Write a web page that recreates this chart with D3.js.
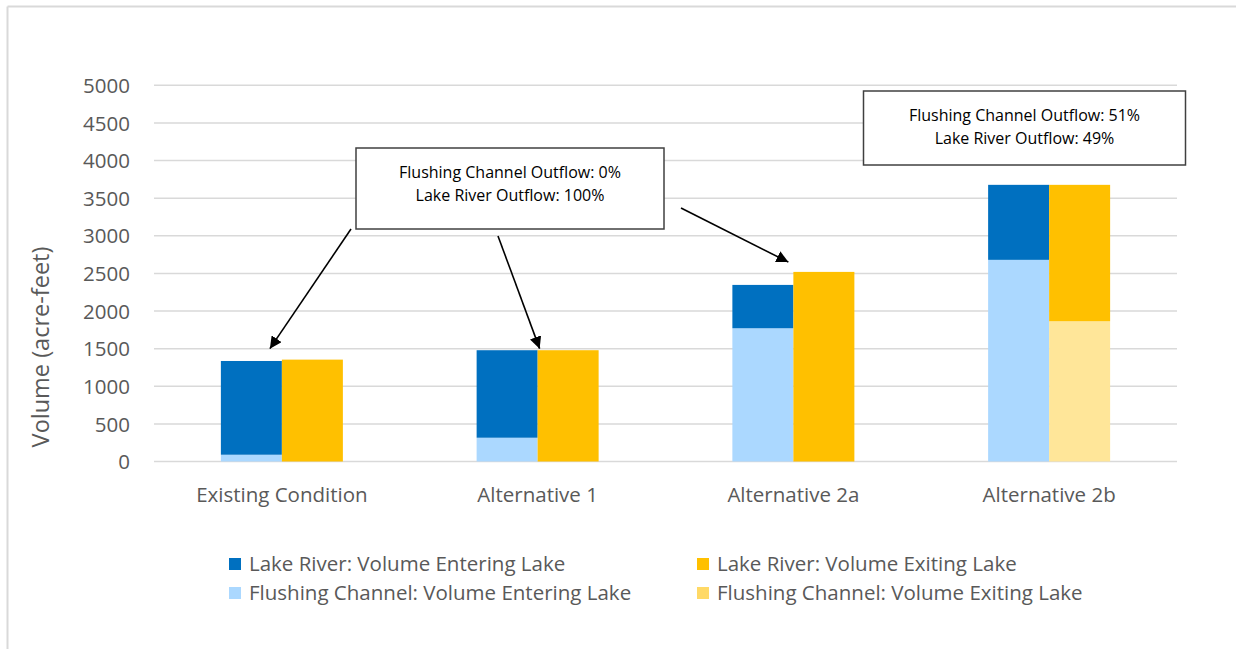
<!DOCTYPE html>
<html>
<head>
<meta charset="utf-8">
<script src="https://cdn.jsdelivr.net/npm/d3@7"></script>
<style>
  html, body { margin: 0; padding: 0; background: #fff; }
  svg { display: block; }
</style>
</head>
<body>
<svg id="chart" width="1236" height="649"></svg>
<script>
// ---- data ----
const categories = ["Existing Condition", "Alternative 1", "Alternative 2a", "Alternative 2b"];
const flushingEntering = [90, 316, 1771, 2680];
const lakeRiverEntering = [1246, 1163, 576, 997];
const flushingExiting = [0, 0, 0, 1864];
const lakeRiverExiting = [1354, 1479, 2520, 1813];
const yTicks = [0, 500, 1000, 1500, 2000, 2500, 3000, 3500, 4000, 4500, 5000];
const seriesNames = [
  "Lake River: Volume Entering Lake",
  "Lake River: Volume Exiting Lake",
  "Flushing Channel: Volume Entering Lake",
  "Flushing Channel: Volume Exiting Lake"
];
const annotation1 = ["Flushing Channel Outflow: 0%", "Lake River Outflow: 100%"];
const annotation2 = ["Flushing Channel Outflow: 51%", "Lake River Outflow: 49%"];

const colors = {
  lrIn: "#0070C0",
  lrOut: "#FFC000",
  fcIn: "#ABD8FF",
  fcOut: "#FFE699"
};

const svg = d3.select("#chart");
const textColor = "#595959";
const font = "'Open Sans', 'DejaVu Sans', sans-serif";

// outer frame
svg.append("line").attr("x1", 7.5).attr("x2", 1236).attr("y1", 6.5).attr("y2", 6.5)
  .attr("stroke", "#d9d9d9").attr("stroke-width", 2);
svg.append("line").attr("x1", 7.5).attr("x2", 7.5).attr("y1", 6.5).attr("y2", 649)
  .attr("stroke", "#d9d9d9").attr("stroke-width", 2);

const plot = { left: 154, right: 1177, top: 85.3, bottom: 461.5 };

const x = d3.scaleBand().domain(categories).range([plot.left, plot.right]).paddingInner(0).paddingOuter(0);
const y = d3.scaleLinear().domain([0, 5000]).range([plot.bottom, plot.top]);

// gridlines
svg.append("g").selectAll("line").data(yTicks).join("line")
  .attr("x1", plot.left).attr("x2", plot.right)
  .attr("y1", d => y(d)).attr("y2", d => y(d))
  .attr("stroke", "#d9d9d9").attr("stroke-width", 1.5);

// y axis labels
const yAxis = d3.axisLeft(y).tickValues(yTicks).tickSize(0).tickPadding(0).tickFormat(d3.format("d"));
const yg = svg.append("g").attr("transform", `translate(${plot.left - 24},0)`).call(yAxis);
yg.select(".domain").remove();
yg.selectAll("text").attr("fill", textColor).attr("font-family", font).attr("font-size", 20.5)
  .attr("dy", "0.35em");

// x axis labels
const xAxis = d3.axisBottom(x).tickSize(0).tickPadding(0);
const xg = svg.append("g").attr("transform", `translate(0,${plot.bottom + 33})`).call(xAxis);
xg.select(".domain").remove();
xg.selectAll("text").attr("fill", textColor).attr("font-family", font).attr("font-size", 20.5)
  .attr("dy", "0.35em");

// y title
svg.append("text")
  .attr("transform", `translate(49,347) rotate(-90)`)
  .attr("text-anchor", "middle")
  .attr("fill", textColor).attr("font-family", font).attr("font-size", 23.5)
  .text("Volume (acre-feet)");

// bars
const barW = 61;
const inner = d3.scaleBand().domain(["in", "out"]).range([0, barW * 2]);
const groups = categories.map((c, i) => ({
  cat: c,
  stacks: [
    { key: "in", parts: [{ v: flushingEntering[i], c: colors.fcIn }, { v: lakeRiverEntering[i], c: colors.lrIn }] },
    { key: "out", parts: [{ v: flushingExiting[i], c: colors.fcOut }, { v: lakeRiverExiting[i], c: colors.lrOut }] }
  ]
}));

const barsG = svg.append("g");
groups.forEach(g => {
  const gx = x(g.cat) + x.bandwidth() / 2 - barW;
  g.stacks.forEach(s => {
    let base = 0;
    s.parts.forEach(p => {
      if (p.v > 0) {
        barsG.append("rect")
          .attr("x", gx + inner(s.key))
          .attr("width", inner.bandwidth())
          .attr("y", y(base + p.v))
          .attr("height", y(base) - y(base + p.v))
          .attr("fill", p.c);
      }
      base += p.v;
    });
  });
});

// arrow marker
svg.append("defs").append("marker")
  .attr("id", "arrow").attr("viewBox", "0 0 10 10")
  .attr("refX", 10).attr("refY", 5)
  .attr("markerWidth", 7.5).attr("markerHeight", 7.5)
  .attr("markerUnits", "strokeWidth")
  .attr("orient", "auto")
  .append("path").attr("d", "M0,0 L10,5 L0,10 z").attr("fill", "#000");

// annotation boxes
function box(x0, y0, w, h, lines) {
  svg.append("rect").attr("x", x0).attr("y", y0).attr("width", w).attr("height", h)
    .attr("fill", "#fff").attr("stroke", "#404040").attr("stroke-width", 1.5);
  lines.forEach((t, i) => {
    svg.append("text")
      .attr("x", x0 + w / 2).attr("y", y0 + 24 + i * 23)
      .attr("text-anchor", "middle").attr("dy", "0.35em")
      .attr("fill", "#000").attr("font-family", font).attr("font-size", 16)
      .text(t);
  });
}

// arrows (anchored to scale positions)
function arrow(x1, y1, x2, y2) {
  svg.append("line").attr("x1", x1).attr("y1", y1).attr("x2", x2).attr("y2", y2)
    .attr("stroke", "#000").attr("stroke-width", 1.6).attr("marker-end", "url(#arrow)");
}
const cx = c => x(c) + x.bandwidth() / 2;
arrow(351, 229, cx(categories[0]) - 12, y(1500));
arrow(498, 236, cx(categories[1]) + 2, y(1500));
arrow(681, 208, cx(categories[2]) - 5, y(2650));

box(356, 148, 308, 81, annotation1);
box(863.5, 91, 322, 74, annotation2);

// legend
const legendItems = [
  { name: seriesNames[0], c: colors.lrIn, col: 0, row: 0 },
  { name: seriesNames[1], c: colors.lrOut, col: 1, row: 0 },
  { name: seriesNames[2], c: colors.fcIn, col: 0, row: 1 },
  { name: seriesNames[3], c: "#FFD966", col: 1, row: 1 }
];
const colX = [229, 697];
const rowY = [564, 593];
const lg = svg.append("g");
legendItems.forEach(it => {
  lg.append("rect").attr("x", colX[it.col]).attr("y", rowY[it.row] - 6)
    .attr("width", 12).attr("height", 12).attr("fill", it.c);
  lg.append("text").attr("x", colX[it.col] + 20).attr("y", rowY[it.row])
    .attr("dy", "0.35em").attr("fill", textColor).attr("font-family", font).attr("font-size", 20.5)
    .text(it.name);
});
</script>
</body>
</html>
